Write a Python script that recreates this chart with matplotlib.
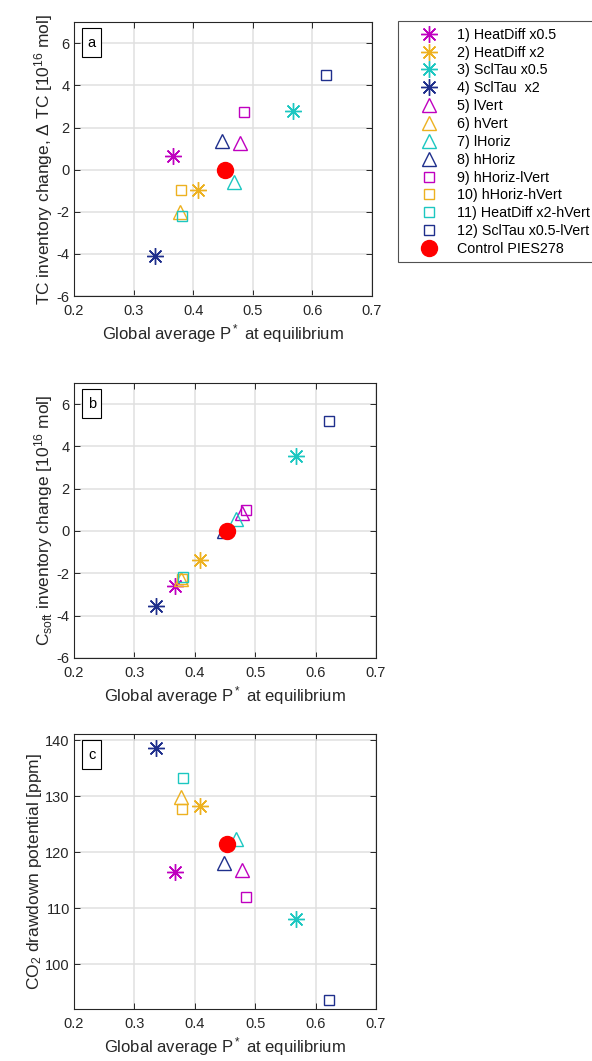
import numpy as np
import matplotlib
matplotlib.use("Agg")
import matplotlib.pyplot as plt
from matplotlib.patches import Rectangle

plt.rcParams['font.family'] = ['Liberation Sans', 'DejaVu Sans']
plt.rcParams['mathtext.fontset'] = 'custom'
plt.rcParams['mathtext.rm'] = 'Liberation Sans'
plt.rcParams['mathtext.it'] = 'Liberation Sans:italic'
plt.rcParams['mathtext.sf'] = 'Liberation Sans'
plt.rcParams['axes.unicode_minus'] = False

# Experimentos de sensibilidad
nombres = ['1) HeatDiff x0.5', '2) HeatDiff x2', '3) SclTau x0.5', '4) SclTau  x2',
           '5) lVert', '6) hVert', '7) lHoriz', '8) hHoriz',
           '9) hHoriz-lVert', '10) hHoriz-hVert', '11) HeatDiff x2-hVert',
           '12) SclTau x0.5-lVert']
pstar = [0.367, 0.409, 0.568, 0.336, 0.479, 0.378, 0.469, 0.449,
         0.485, 0.379, 0.381, 0.623]
delta_tc = [0.65, -0.98, 2.79, -4.10, 1.29, -2.02, -0.57, 1.36,
            2.72, -0.98, -2.18, 4.52]
delta_csoft = [-2.62, -1.36, 3.55, -3.57, 0.87, -2.28, 0.58, 0.02,
               0.97, -2.29, -2.18, 5.19]
co2_drawdown = [116.5, 128.2, 108.1, 138.6, 116.9, 129.8, 122.3, 118.1,
                112.0, 127.8, 133.3, 93.6]

# Control
control_nombre = 'Control PIES278'
control_pstar = 0.453
control_tc = 0.0
control_csoft = 0.0
control_co2 = 121.5

colores = ['#BF00BF', '#EDB120', '#1CC7C1', '#1F2F8C']
marcadores = [(8, 2, 0), '^', 's']
tamanos = [12, 10, 7.5]

paneles = [
    ('a', delta_tc, control_tc, 'TC inventory change, $\\Delta$ TC [10$^{16}$ mol]',
     (-6, 7), np.arange(-6, 7, 2), [0.125, 0.721, 0.503, 0.258]),
    ('b', delta_csoft, control_csoft, 'C$_{\\mathrm{soft}}$ inventory change [10$^{16}$ mol]',
     (-6, 7), np.arange(-6, 7, 2), [0.125, 0.380, 0.510, 0.259]),
    ('c', co2_drawdown, control_co2, 'CO$_2$ drawdown potential [ppm]',
     (92.0, 141.1), np.arange(100, 141, 10), [0.125, 0.049, 0.510, 0.259]),
]

gris = '#262626'
fig = plt.figure(figsize=(5.92, 10.61), dpi=100)

handles = []
for letra, valores, ctrl, ylabel, ylim, yticks, pos in paneles:
    ax = fig.add_axes(pos)
    handles = []
    for i in range(12):
        m = marcadores[i // 4]
        c = colores[i % 4]
        ms = tamanos[i // 4]
        h, = ax.plot(pstar[i], valores[i], linestyle='none', marker=m,
                     markersize=ms, markerfacecolor='none', markeredgecolor=c,
                     color=c, markeredgewidth=1.0, label=nombres[i], zorder=3)
        handles.append(h)
    h, = ax.plot(control_pstar, ctrl, linestyle='none', marker='o', markersize=11.5,
                 color='red', markeredgecolor='red', label=control_nombre, zorder=4)
    handles.append(h)

    ax.set_xlim(0.2, 0.7)
    ax.set_ylim(*ylim)
    ax.set_xticks(np.arange(0.2, 0.71, 0.1))
    ax.set_xticklabels(['0.2', '0.3', '0.4', '0.5', '0.6', '0.7'])
    ax.set_yticks(yticks)
    ax.grid(True, color='#E0E0E0', linewidth=1.1)
    ax.set_axisbelow(True)
    ax.tick_params(direction='in', top=True, right=True, length=4, width=0.7,
                   colors=gris, labelsize=10.5, pad=3)
    ax.tick_params(axis='x', pad=6)
    for s in ax.spines.values():
        s.set_color(gris)
        s.set_linewidth(0.8)
    ax.set_xlabel('Global average P$^*$ at equilibrium', fontsize=12, color=gris, labelpad=3)
    ax.set_ylabel(ylabel, fontsize=12.5, color=gris, labelpad=1)

    ax.add_patch(Rectangle((0.027, 0.872), 0.064, 0.106, transform=ax.transAxes,
                           facecolor='white', edgecolor='black', linewidth=0.8, zorder=5))
    ax.text(0.059, 0.925, letra, transform=ax.transAxes, ha='center', va='center',
            fontsize=10.5, zorder=6)

leg = fig.legend(handles=handles, loc='upper left', bbox_to_anchor=(0.672, 0.980),
                 fontsize=10.3, frameon=True, fancybox=False, edgecolor=gris,
                 handlelength=3.4, handletextpad=0.3, labelspacing=0.27,
                 borderpad=0.45, borderaxespad=0)
leg.get_frame().set_linewidth(0.8)

fig.savefig('out.png', dpi=100)
